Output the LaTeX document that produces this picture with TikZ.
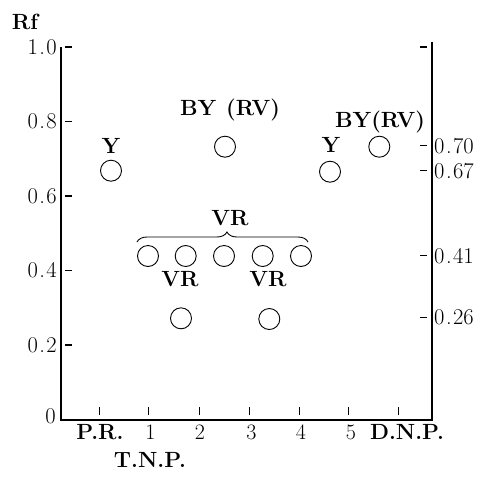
\documentclass[tikz,border=0pt]{standalone}
\usetikzlibrary{decorations.pathreplacing}
% decimal number with the wide-set point used on the scales
\newcommand\rfnum[2]{#1\kern1.5pt.\kern1.5pt#2}
\begin{document}
\begin{tikzpicture}[x=1pt,y=1pt,
  spot/.style={circle,draw,line width=0.9pt,minimum size=21pt,inner sep=0pt},
  lab/.style={font=\fontsize{22}{26}\selectfont\bfseries,inner sep=0pt,anchor=base},
  tag/.style={font=\fontsize{22}{26}\selectfont,inner sep=0pt,anchor=base},
  lnum/.style={font=\fontsize{22.5}{26}\selectfont,inner sep=0pt,anchor=east},
  rnum/.style={font=\fontsize{22.5}{26}\selectfont,inner sep=0pt,anchor=west},
  axisline/.style={line width=1.2pt},
  tickmark/.style={line width=1.2pt}]
\useasboundingbox (0,0) rectangle (486,-477);

% frame: left scale, base line, right scale
\coordinate (tl) at (61,-47);
\coordinate (o)  at (61,-420);
\coordinate (br) at (432,-420);
\coordinate (tr) at (432,-42);
\draw[axisline] (tl) -- (o) -- (br) -- (tr);

% left Rf scale
\node[lab] (rf) at (25,-29) {Rf};
\foreach \yy/\a/\b [count=\i] in {47/1/0, 121.5/0/8, 196/0/6, 270.5/0/4, 345/0/2} {
  \coordinate (lta\i) at (65,-\yy);
  \coordinate (ltb\i) at (72,-\yy);
  \draw[tickmark] (lta\i) -- (ltb\i);
  \node[lnum] (ln\i) at (57,-\yy) {\rfnum{\a}{\b}};
}
\node[lnum] (ln0) at (56,-416) {0};

% right scale with the measured values
\coordinate (rta0) at (420,-47);
\coordinate (rtb0) at (427,-47);
\draw[tickmark] (rta0) -- (rtb0);
\foreach \yy/\a/\b [count=\i] in {145.7/0/70, 170.7/0/67, 255.7/0/41, 317.3/0/26} {
  \coordinate (rta\i) at (420,-\yy);
  \coordinate (rtb\i) at (427,-\yy);
  \draw[tickmark] (rta\i) -- (rtb\i);
  \node[rnum] (rn\i) at (434,-\yy) {\rfnum{\a}{\b}};
}

% lane marks along the base line
\foreach \xx [count=\i] in {99,148,199,249,299,348,398} {
  \coordinate (bta\i) at (\xx,-407);
  \coordinate (btb\i) at (\xx,-415);
  \draw[line width=1pt] (bta\i) -- (btb\i);
}

% lane names
\node[lab] (pr)  at (100,-439) {P.R.};
\node[tag] (l1)  at (150.5,-439) {1};
\node[tag] (l2)  at (200,-439) {2};
\node[tag] (l3)  at (251.5,-439) {3};
\node[tag] (l4)  at (301,-439) {4};
\node[tag] (l5)  at (351,-439) {5};
\node[lab] (dnp) at (407,-439) {D.N.P.};
\node[lab] (tnp) at (150,-467) {T.N.P.};

% spots
\node[spot] (y1)  at (111,-170.7) {};
\node[spot] (by1) at (225,-146.7) {};
\node[spot] (y2)  at (330,-171.7) {};
\node[spot] (by2) at (379.3,-146.7) {};
\node[spot] (vr1) at (148,-256) {};
\node[spot] (vr2) at (185.7,-256) {};
\node[spot] (vr3) at (224,-256) {};
\node[spot] (vr4) at (262.7,-256) {};
\node[spot] (vr5) at (301,-256) {};
\node[spot] (vr6) at (181,-318.3) {};
\node[spot] (vr7) at (269.3,-319) {};

% spot labels
\node[lab] (ty1)  at (111,-153) {Y};
\node[lab] (tby1) at (230,-115) {BY\hspace{0.45em}(RV)};
\node[lab] (tby2) at (380,-127) {BY(RV)};
\node[lab] (ty2)  at (331,-152.7) {Y};
\node[lab] (tvr)  at (230,-225) {VR};
\node[lab] (tvr6) at (180,-286) {VR};
\node[lab] (tvr7) at (268,-286) {VR};

% brace grouping the VR row
\coordinate (bra) at (137,-242);
\coordinate (brb) at (308,-242);
\draw[line width=0.9pt,decorate,decoration={brace,amplitude=10pt,aspect=0.526}] (bra) -- (brb);
\end{tikzpicture}
\end{document}
